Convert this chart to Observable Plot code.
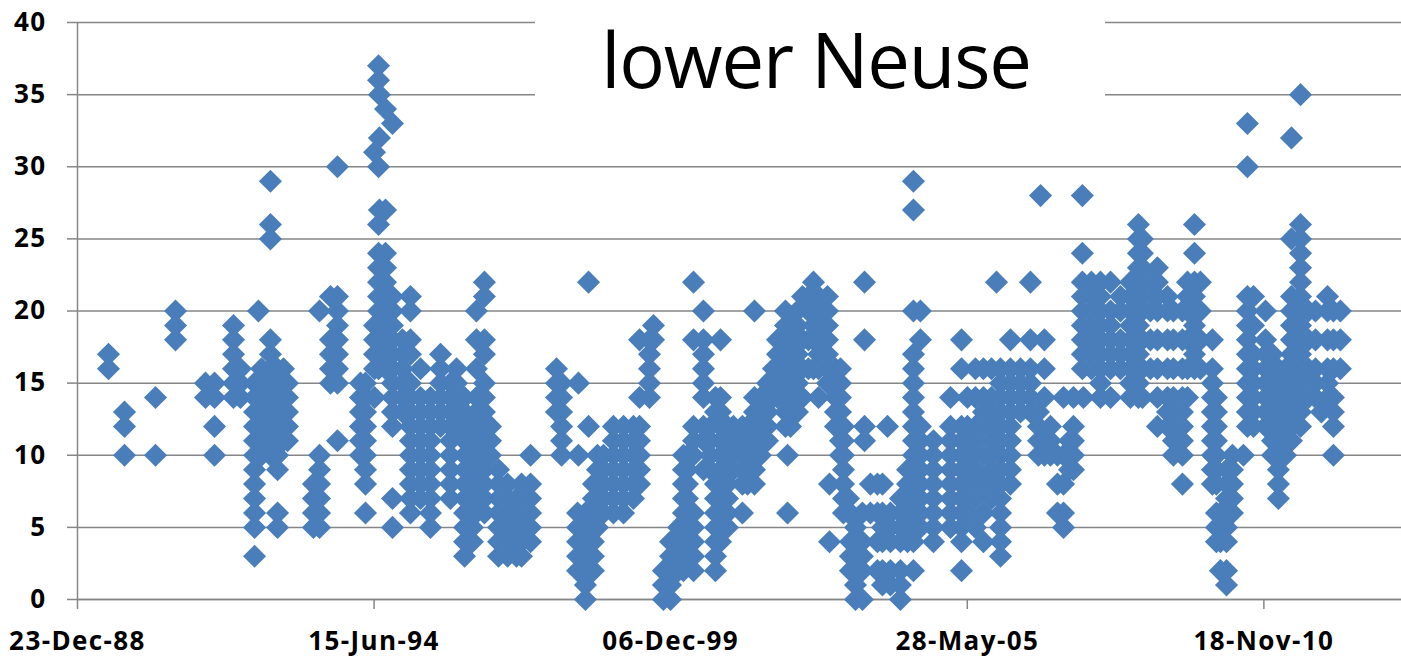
<!DOCTYPE html>
<html><head><meta charset="utf-8">
<script src="https://cdn.jsdelivr.net/npm/d3@7"></script>
<script src="https://cdn.jsdelivr.net/npm/@observablehq/plot@0.6"></script>
<style>
html,body{margin:0;padding:0;background:#fff;}
#wrap{position:relative;width:1401px;height:660px;overflow:hidden;}
#wrap svg{position:absolute;left:0;top:0;}
#wrap svg text{letter-spacing:1.4px;}
#title{position:absolute;left:535px;top:0;width:570px;height:97px;background:#fff;text-align:center;box-sizing:border-box;padding-right:8px;
font:400 76px/118px "Open Sans",sans-serif;color:#000;letter-spacing:-1.2px;}
</style></head><body>
<div id="wrap"><div id="chart"></div><div id="title">lower Neuse</div></div>
<script>
const tickDates=[32500,34500,36500,38500,40500];
const tickLabels=["23-Dec-88","15-Jun-94","06-Dec-99","28-May-05","18-Nov-10"];
const yTicks=[0,5,10,15,20,25,30,35,40];
const sampleDates=[32709,32817,33026,33161,33363,33424,33552,33599,33720,33694,33741,33801,33849,33889,33916,34091,34132,34206,34253,34408,34442,34503,34530,34536,34577,34624,34691,34745,34813,34880,34948,35015,35056,35110,35163,35190,35244,35285,35339,35400,35460,35494,35555,35730,35764,35878,35946,35872,35925,35979,36006,36047,36114,36182,36249,36290,36357,36384,36451,36499,36553,36586,36613,36654,36721,36768,36802,36836,36883,36923,36984,37018,37065,37105,37153,37193,37220,37274,37288,37308,37355,37389,37429,37463,37497,37557,37571,37611,37645,37665,37699,37712,37746,37793,37807,37847,37894,37928,37962,37982,38049,38097,38137,38184,38272,38387,38461,38501,38555,38609,38663,38697,38724,38791,38859,38926,38980,38994,39020,39061,39108,39149,39189,39216,39283,39276,39337,39398,39466,39533,39600,39654,39681,39735,39782,39850,39890,39951,39985,40032,40072,40153,40180,40207,40248,40288,40362,40389,40430,40511,40558,40598,40646,40686,40747,40801,40848,40888,40929,40969,41016];
const sampleValues=[[17,16],[13,12,10],[14,10],[20,19,18],[15,14],[15,14,12,10],[19,18,17,16,15,14],[16,15,14],[20],[15,14,13,12,11,10,9,8,7,6,5,3],[16,15,14,13,12,11,10],[29,26,25,18,17,16,15,14,13,12,11,10],[16,15,14,13,12,11,10,9,6,5],[16,15,14,13,12,11],[15,14,13,12,11],[8,7,6,5],[20,10,9,8,7,6,5],[21,18,17,16,15],[30,21,20,19,18,17,16,15,11],[15,14,13,12,11,10],[15,14,13,12,11,10,9,8,6],[31,19,18,17,16,14],[37,36,30,26,24,23,22,21,20,19,18,17,16],[35,32,27],[34,27,24,23,22,21,20,19,18,17,16],[33,21,20,19,18,17,16,15,14,13,12,7,5],[18,17,16,15,14,13],[21,20,18,17,15,14,13,12,11,10,9,8,7,6],[16,14,13,12,11,10,9,8,7],[14,13,12,11,10,9,8,7,6,5],[17,16,15,14,13,12],[15,14,13,12,11,10,9,8,7],[16,15,14,13,12],[14,13,12,11,10,9,8,7,6,5,4,3],[12,11,10,9,8,7,6,5,4],[20,18,16,14,13,12,11,10,9,8,7,6],[22,21,18,17,15,14,13,12,11,10,9,8,7,6],[12,11,10],[9,8,7,6,5,4,3],[8,7,6,5,4,3],[7,6,5,4,3],[8,7,6,5,4,3],[10,8,7,6,5,4],[16,15,14,13],[15,14,13,12,11,10],[15,10],[22,12],[6,5,4,3,2],[6,5,4,3,2,1,0],[8,7,6,5,4,3,2],[10,9,8,7,6,5],[10,9,8,7,6],[12,11,10,9,8,7,6],[12,11,10,9,8,7,6],[12,11,10,9,8,7],[18,14,12,11,10,9,8],[18,17,16,15,14],[19,18],[2,1,0],[4,3,2,1,0],[5,4,3,2],[10,9,8,7,6,5,4,3,2],[10,9,8,7,6,5,4,3],[22,18,12,11,10,6,5,4,3,2],[20,18,17,16,15,14,12,11,9],[12,11,10,9],[14,13,8,7,6,5,4,3,2],[18,14,13,12,11,10,9,8,7,6,5,4],[12,11,10,8,7,6,5],[12,11,10,9],[12,11,10,9,8,6],[12,11,10,9,8],[20,14,13,12,11,10,9,8],[14,13,12,11,10],[15,14,13,12,11],[16,15,14],[18,17,16,15,14],[20,19,18,17,16,15,14,13,12],[10,6],[19,18,17,16,15,14,13,12],[20,19,18,17,16,15,14,13],[21,18,16,14],[21,20,18,16],[22,20,19,18,16],[21,20,19,18,17,16,14],[21,20,19,18,17,16,15],[8,4],[16,15,14,13,12],[16,15,14,13,12,11,10],[12,11,10,9,8,7,6],[7,6],[6,4,3,2],[5,4,3,2,1,0],[6,4,3,2,0],[22,18,12,11],[8,6],[8,6,4,2],[8,6,5,4,2,1],[12],[6,5,4,2,1],[7,6,5,4,2,1,0],[9,8,7,6,5,4],[29,27,20,17,16,15,14,13,12,11,10,8,7,6,5,4,2],[20,18,12,11,10,9,8,7,6,5],[11,10,9,8,7,6,5,4],[14,12,11,10,9,8,7,6,5],[18,16,12,11,10,9,8,7,6,5,4,2],[14,12,11,10,9,8,6],[16,14,12,11,10,9,8,7,5],[16,14,13,12,10,8,6,4],[16,14,13,12,11,10,9,8,7],[22],[16,15,14,13,12,11,10,9,8,7,6,5,4,3],[18,16,15,14,13,12,11,10,9,8],[16,15,14,13],[22,18,16,15,14,13],[13,12,11,10],[28],[18,16,14,11,10],[12,11,10],[10,8,6],[14,10,8,6,5],[11,10,9],[14,12,11,10,9],[14],[28,24,22,21,20,19,18,17,16],[22,21,20,19,18,17,16],[22,21,20,19,18,17,16,15,14],[22,20,19,18,17,16,14],[21,20,18,17,16],[22,21,20,19,18,17,16,15,14],[26,25,24,23,22,21,20,19,18,17,16,15,14],[25,24,23,22,21,20,18,16,14],[22,20,18,16],[23,22,21,20,18,16,14,12],[21,20,18,16,14,13,12],[20,18,16,14,13,12,11,10],[20,18,16,14,13,12,11,10,8],[22,21,20,18,16,14],[26,24,22,21,20,19,18,17,16],[22,20,18,16],[18,16,15,14,13,12,11,10,9,8],[14,13,12,11,10,9,8,6,5,4],[6,5,4,2],[9,8,7,6,5,4,2,1],[10,9,8,7,6],[10],[33,30,21,20,19,18,17,16,15,14,13,12],[21,19,17,16,15,14,13,12],[20,18,17,16,15,14,13,12],[17,16,15,14,13,12,11,10],[16,15,14,13,12,11,10,9,8,7],[16,15,14,13,12,11,10],[32,25,21,20,19,18,17,16,15,14,13,12,11],[35,26,25,24,23,22,21,20,19,18,17,16,15,14,13,12],[20,18,16,14],[20,18,16,15,14],[13],[21,20,18,16,15,14],[20,18,16,14,13,12,10],[20,18,16]];
const rows=sampleDates.flatMap((d,i)=>sampleValues[i].map(v=>({d,v})));
const gridColor="#868686", font='"Open Sans",sans-serif';
const chart=Plot.plot({
  width:1401,height:660,marginLeft:77,marginRight:0,marginTop:22,marginBottom:61,
  style:{background:"#fff",fontFamily:font},
  x:{domain:[32500,41428],label:null},
  y:{domain:[0,40],label:null},
  marks:[
    Plot.gridY(yTicks,{stroke:gridColor,strokeOpacity:1,strokeWidth:1.5}),
    Plot.ruleY([0],{stroke:gridColor,strokeWidth:1.5}),
    Plot.ruleX([32500],{stroke:gridColor,strokeWidth:1.5}),
    Plot.axisY({ticks:yTicks,tickSize:10,tickPadding:21,stroke:gridColor,strokeWidth:1.5,strokeOpacity:1,
      fontSize:26,fontWeight:"bold",fill:"#000",fontFamily:font,label:null}),
    Plot.axisX({ticks:tickDates,tickSize:10,tickPadding:22,stroke:gridColor,strokeWidth:1.5,strokeOpacity:1,
      tickFormat:d=>tickLabels[tickDates.indexOf(d)],fontSize:26,fontWeight:"bold",fill:"#000",fontFamily:font,label:null}),
    Plot.dot(rows,{x:"d",y:"v",symbol:"diamond2",r:10.4,fill:"#4a7ebb",stroke:"none"})
  ]
});
document.getElementById("chart").appendChild(chart);
</script></body></html>
